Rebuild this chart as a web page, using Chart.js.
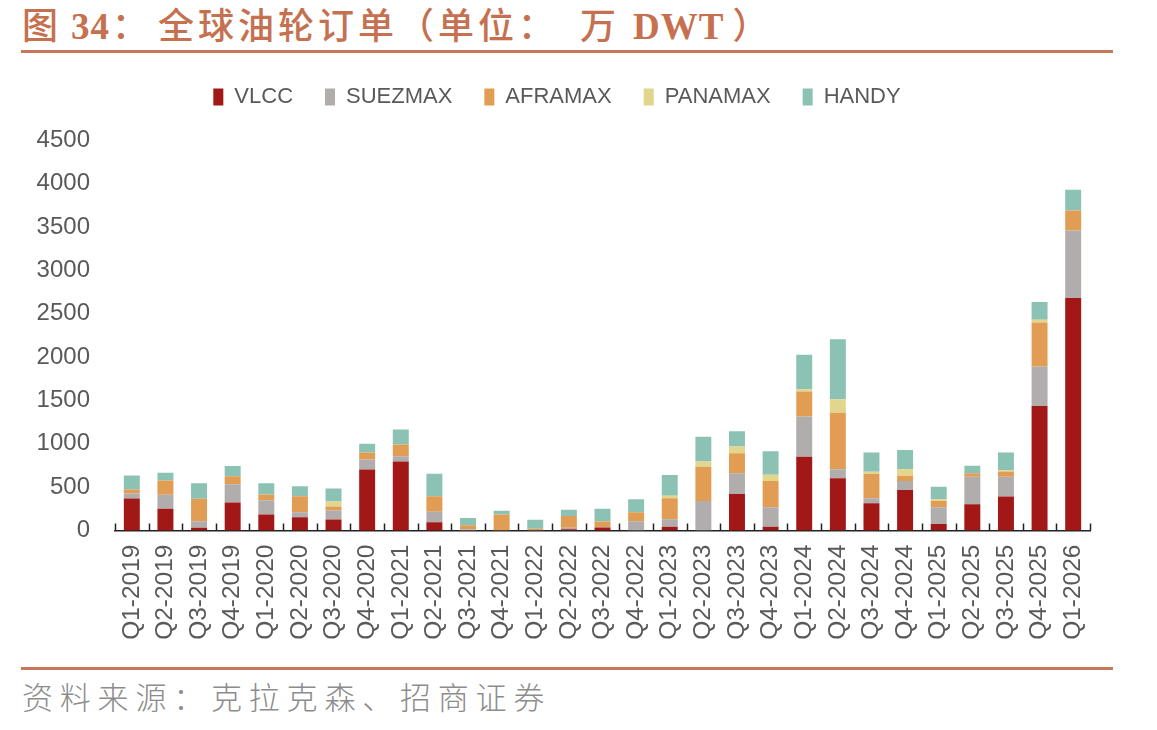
<!DOCTYPE html>
<html>
<head>
<meta charset="utf-8">
<script src="https://cdn.jsdelivr.net/npm/chart.js@4.4.1/dist/chart.umd.min.js"></script>
<style>
  html, body { margin:0; padding:0; background:#fff; }
  body { width:1157px; height:730px; position:relative; overflow:hidden; }
  #title { position:absolute; left:22px; top:3px; height:40px; line-height:40px; white-space:nowrap;
           color:#C5704F; font-size:36px;
           font-family:"Liberation Serif","Noto Sans CJK SC",serif; font-weight:bold; }
  #title .cjk { font-family:"Noto Sans CJK SC",sans-serif; font-weight:500; letter-spacing:4px; }
  #title .lat { font-size:37px; letter-spacing:1px; }
  .rule { position:absolute; left:21px; width:1092px; height:3px; background:#C8775C; }
  #source { position:absolute; left:22px; top:676px; line-height:40px; white-space:nowrap;
            color:#8c8c8c; font-size:31px; letter-spacing:6.8px;
            font-family:"Noto Sans CJK SC",sans-serif; font-weight:300; }
  #wrap { position:absolute; left:0; top:56px; width:1157px; height:610px; }
</style>
</head>
<body>
<div id="title"><span class="cjk">图</span> <span class="lat">34</span><span class="cjk" style="margin-left:2px">：</span><span class="cjk" style="margin-left:6px">全球油轮订单（单位：</span><span class="cjk" style="margin-left:22px">万</span> <span class="lat" style="margin-left:4px">DWT</span><span class="cjk" style="margin-left:8px">）</span></div>
<div class="rule" style="top:50px"></div>
<div id="wrap"><canvas id="c" width="1157" height="610"></canvas></div>
<div class="rule" style="top:667px"></div>
<div id="source">资料来源：克拉克森、招商证券</div>
<script>
const categories = ["Q1-2019","Q2-2019","Q3-2019","Q4-2019","Q1-2020","Q2-2020","Q3-2020","Q4-2020",
  "Q1-2021","Q2-2021","Q3-2021","Q4-2021","Q1-2022","Q2-2022","Q3-2022","Q4-2022",
  "Q1-2023","Q2-2023","Q3-2023","Q4-2023","Q1-2024","Q2-2024","Q3-2024","Q4-2024",
  "Q1-2025","Q2-2025","Q3-2025","Q4-2025","Q1-2026"];
const vlcc   = [370,250,31,323,185,154,127,704,797,96,0,0,0,15,35,0,44,0,422,44,852,603,314,468,75,303,391,1437,2683];
const suezmax= [57,162,76,212,165,57,104,116,61,120,15,0,0,16,5,107,85,341,239,224,462,104,58,104,193,316,228,456,779];
const aframax= [46,165,259,92,66,185,46,81,135,180,45,185,19,135,65,104,243,396,230,304,289,653,280,61,73,42,62,508,231];
const panamax= [0,0,0,0,0,0,58,0,0,0,0,0,0,0,0,0,30,58,77,72,28,155,27,74,19,0,15,30,0];
const handy  = [162,89,180,116,130,116,150,100,173,259,85,42,104,73,147,151,239,288,178,271,396,693,220,223,145,87,203,205,238];
const yTicks = [0,500,1000,1500,2000,2500,3000,3500,4000,4500];

const seriesNames = ["VLCC","SUEZMAX","AFRAMAX","PANAMAX","HANDY"];
const seriesData = [vlcc, suezmax, aframax, panamax, handy];
const seriesColors = ["#A21816","#B0ADAC","#E29D55","#E2D68D","#8CC2B4"];

const innerTicks = {
  id:'innerTicks',
  afterDatasetsDraw(chart){
    const xs = chart.scales.x; const ctx = chart.ctx;
    const n = categories.length; const step = xs.width / n;
    ctx.save(); ctx.strokeStyle = '#222'; ctx.lineWidth = 1.5;
    for (let i=0;i<=n;i++){
      const x = Math.round(xs.left + i*step) + 0.5;
      ctx.beginPath(); ctx.moveTo(x, xs.top - 7); ctx.lineTo(x, xs.top); ctx.stroke();
    }
    ctx.restore();
  }
};
const legendBox = {
  id:'legendBox',
  beforeInit(chart){
    const lg = chart.legend;
    if (lg) { const orig = lg.fit; lg.fit = function(){ orig.call(this); this.height = 84.5; }; }
  },
  afterLayout(chart){
    const lg = chart.legend;
    if (lg) { lg.left += 24; lg.top -= 2; lg.bottom -= 2; }
  }
};

new Chart(document.getElementById('c'), {
  type:'bar',
  data:{
    labels: categories,
    datasets: seriesNames.map((name,i)=>({
      label:name, data:seriesData[i], backgroundColor:seriesColors[i],
      borderWidth:0, barPercentage:0.475, categoryPercentage:1.0
    }))
  },
  options:{
    responsive:false, animation:false,
    layout:{ padding:{ left:0, right:67, top:0, bottom:0 } },
    plugins:{
      legend:{ position:'top', align:'center',
        labels:{ boxWidth:10, boxHeight:17, padding:32, color:'#595959',
          font:{ family:'"Liberation Sans", Arial, sans-serif', size:22 } } },
      tooltip:{ enabled:false }
    },
    scales:{
      x:{ stacked:true, offset:true,
        grid:{ display:false, drawTicks:false },
        border:{ display:true, color:'#222', width:1.5 },
        ticks:{ minRotation:90, maxRotation:90, padding:14, color:'#595959', autoSkip:false,
          font:{ family:'"Liberation Sans", Arial, sans-serif', size:24.5 } },
        afterFit(s){ s.height = 135.5; }
      },
      y:{ stacked:true, min:0, max:4500,
        afterBuildTicks(s){ s.ticks = yTicks.map(v=>({value:v})); },
        grid:{ display:false, drawTicks:false },
        border:{ display:false },
        ticks:{ padding:25, color:'#595959', callback:(v)=>String(v),
          font:{ family:'"Liberation Sans", Arial, sans-serif', size:24 } },
        afterFit(s){ s.width = 115; }
      }
    }
  },
  plugins:[innerTicks, legendBox]
});
</script>
</body>
</html>
